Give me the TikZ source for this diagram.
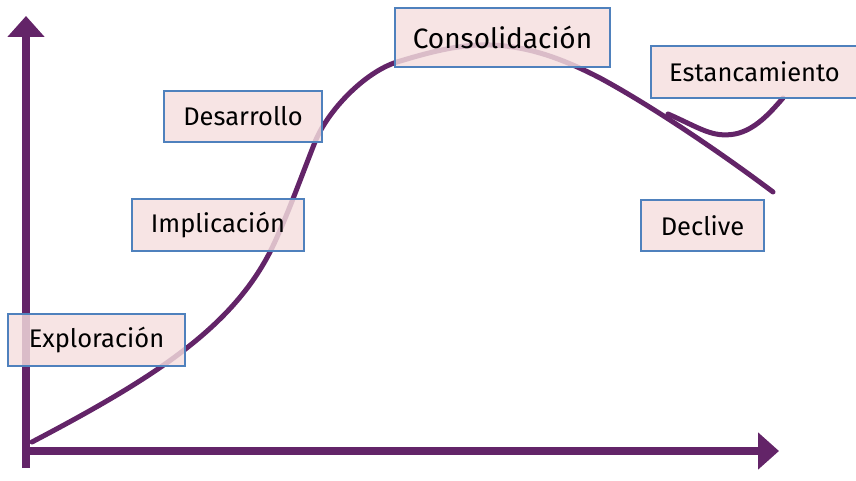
\documentclass[tikz,border=0pt]{standalone}
\usepackage{fontspec}
\setmainfont{Fira Sans}
\usetikzlibrary{arrows.meta}
\definecolor{curvepurple}{RGB}{99,36,104}
\definecolor{boxfill}{RGB}{245,222,222}
\definecolor{boxedge}{RGB}{79,129,189}
\tikzset{
  lbl/.style={draw=boxedge, line width=1.8pt, fill=boxfill, fill opacity=0.82, text opacity=1,
    inner sep=0pt, font=\fontsize{25.5}{30}\selectfont, text=black},
  axisline/.style={draw=curvepurple, line width=7.5pt, -{Triangle[width=36pt,length=21pt]}},
  lifecurve/.style={draw=curvepurple, line width=5pt, line cap=round}
}
\begin{document}
\begin{tikzpicture}[x=1pt,y=-1pt]
\useasboundingbox (0,0) rectangle (856,481);
% axes
\coordinate (origin) at (26,451);
\coordinate (ybot) at (26,468);
\coordinate (ytop) at (26,16);
\coordinate (xend) at (779,451);
\draw[axisline] (ybot) -- (ytop);
\draw[axisline] ([xshift=-3pt]origin) -- (xend);
% main curve
\coordinate (c0) at (32,442);
\coordinate (c1) at (270,252);
\coordinate (c2) at (315,142);
\coordinate (c3) at (397,62);
\coordinate (c4) at (490,45);
\coordinate (c5) at (600,78);
\coordinate (c6) at (773,192);
\draw[lifecurve] (c0) .. controls (150,380) and (230,330) .. (c1)
  .. controls (285,222) and (300,180) .. (c2)
  .. controls (328,110) and (365,72) .. (c3)
  .. controls (430,52) and (460,44) .. (c4)
  .. controls (530,46) and (565,60) .. (c5)
  .. controls (650,105) and (720,152) .. (c6);
% stagnation branch
\coordinate (bstart) at (668,114);
\coordinate (bend) at (783,98);
\draw[lifecurve] (bstart) .. controls (700,128) and (712,138) .. (735,134) .. controls (755,130) and (770,113) .. (bend);
% labels
\node[lbl, minimum width=177pt, minimum height=52pt] (expl) at (96.5,340) {Exploración};
\node[lbl, minimum width=172pt, minimum height=52pt] (impl) at (218,225) {Implicación};
\node[lbl, minimum width=158pt, minimum height=51pt] (desa) at (243,116.5) {Desarrollo};
\node[lbl, minimum width=215pt, minimum height=59pt, font=\fontsize{28}{32}\selectfont] (cons) at (502.5,37.5) {Consolidación};
\node[lbl, minimum width=207pt, minimum height=52pt] (esta) at (754.5,72) {Estancamiento};
\node[lbl, minimum width=123pt, minimum height=51pt] (decl) at (702.5,225.5) {Declive};
\end{tikzpicture}
\end{document}
